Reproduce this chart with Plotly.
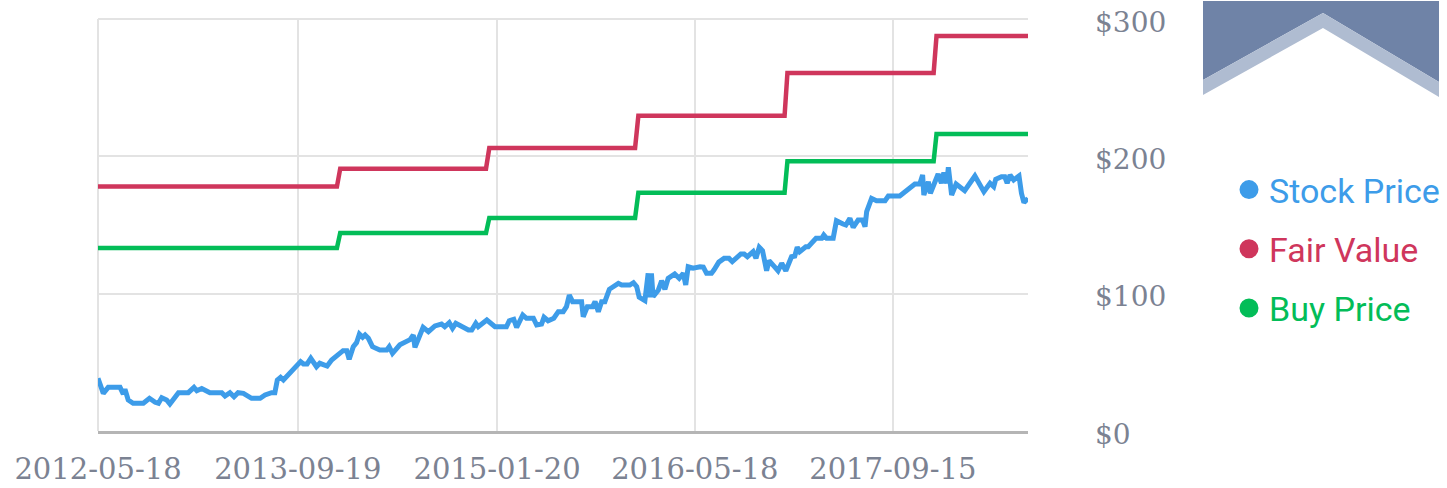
import plotly.graph_objects as go

# ---------------- data ----------------
stock_dates = [
    "2012-05-18", "2012-05-31", "2012-06-12", "2012-07-11", "2012-07-19", "2012-07-23", "2012-07-31",
    "2012-08-12", "2012-09-06", "2012-09-21", "2012-10-05", "2012-10-13", "2012-10-21", "2012-11-02",
    "2012-11-10", "2012-12-01", "2012-12-25", "2013-01-08", "2013-01-15", "2013-01-27", "2013-02-16",
    "2013-03-17", "2013-03-25", "2013-04-06", "2013-04-16", "2013-04-26", "2013-05-09", "2013-05-29",
    "2013-06-19", "2013-07-01", "2013-07-17", "2013-07-25", "2013-07-31", "2013-08-08", "2013-08-15",
    "2013-09-26", "2013-10-03", "2013-10-12", "2013-10-21", "2013-11-04", "2013-11-12", "2013-11-30",
    "2013-12-11", "2013-12-27", "2014-01-08", "2014-01-17", "2014-01-23", "2014-02-02", "2014-02-10",
    "2014-02-17", "2014-02-25", "2014-03-03", "2014-03-11", "2014-03-21", "2014-04-08", "2014-04-25",
    "2014-05-01", "2014-05-09", "2014-05-27", "2014-06-21", "2014-06-29", "2014-07-03", "2014-07-23",
    "2014-08-05", "2014-08-21", "2014-09-06", "2014-09-14", "2014-09-25", "2014-10-03", "2014-10-11",
    "2014-10-25", "2014-11-11", "2014-11-19", "2014-11-29", "2014-12-05", "2014-12-26", "2015-01-15",
    "2015-02-12", "2015-02-19", "2015-03-02", "2015-03-09", "2015-03-24", "2015-04-02", "2015-04-19",
    "2015-04-27", "2015-05-09", "2015-05-15", "2015-05-25", "2015-06-08", "2015-06-19", "2015-07-01",
    "2015-07-09", "2015-07-16", "2015-07-24", "2015-08-15", "2015-08-19", "2015-08-29", "2015-09-11",
    "2015-09-17", "2015-09-25", "2015-10-03", "2015-10-11", "2015-10-22", "2015-10-31", "2015-11-13",
    "2015-11-21", "2015-12-11", "2015-12-20", "2015-12-28", "2016-01-03", "2016-01-17", "2016-01-25",
    "2016-01-29", "2016-02-02", "2016-02-06", "2016-02-19", "2016-02-27", "2016-03-06", "2016-03-14",
    "2016-03-30", "2016-04-10", "2016-04-20", "2016-04-26", "2016-05-02", "2016-05-14", "2016-05-31",
    "2016-06-08", "2016-06-16", "2016-06-28", "2016-07-04", "2016-07-16", "2016-07-29", "2016-08-10",
    "2016-08-18", "2016-09-08", "2016-09-16", "2016-09-24", "2016-10-08", "2016-10-15", "2016-10-23",
    "2016-10-31", "2016-11-10", "2016-11-16", "2016-11-28", "2016-12-08", "2016-12-17", "2016-12-27",
    "2017-01-10", "2017-01-18", "2017-01-24", "2017-01-30", "2017-02-14", "2017-02-20", "2017-03-11",
    "2017-03-25", "2017-03-30", "2017-04-06", "2017-04-22", "2017-04-30", "2017-05-16", "2017-05-23",
    "2017-06-02", "2017-06-10", "2017-06-22", "2017-07-03", "2017-07-09", "2017-07-13", "2017-07-25",
    "2017-08-06", "2017-08-27", "2017-09-04", "2017-10-02", "2017-10-23", "2017-11-08", "2017-11-20",
    "2017-11-27", "2017-11-30", "2017-12-11", "2017-12-16", "2017-12-27", "2018-01-04", "2018-01-12",
    "2018-01-18", "2018-01-25", "2018-01-29", "2018-02-06", "2018-02-17", "2018-03-10", "2018-04-04",
    "2018-04-26", "2018-05-11", "2018-05-20", "2018-05-25", "2018-06-08", "2018-06-16", "2018-06-22",
    "2018-06-29", "2018-07-08", "2018-07-21", "2018-07-27", "2018-08-02", "2018-08-12",
]
stock_values = [
    38.4, 27.4, 31.8, 31.8, 26.9, 30.4, 22.6,
    20.2, 20.2, 23.8, 20.9, 20.2, 24.3, 22.6,
    19.7, 27.9, 27.9, 31.8, 29.3, 31.0, 27.9,
    27.9, 25.5, 27.9, 25.0, 27.9, 27.4, 23.8,
    23.8, 26.2, 27.9, 27.9, 37.1, 39.1, 37.1,
    50.5, 48.8, 48.8, 52.9, 46.8, 49.3, 47.3,
    51.7, 55.3, 58.5, 58.5, 52.2, 61.4, 64.3,
    70.6, 68.2, 69.9, 67.5, 61.4, 59.0, 59.0,
    61.4, 56.6, 62.8, 66.5, 69.9, 60.9, 75.5,
    72.3, 76.5, 77.9, 75.9, 78.9, 74.8, 78.4,
    75.9, 73.5, 73.5, 78.4, 75.9, 80.8, 75.9,
    75.9, 80.3, 81.3, 75.5, 84.5, 82.1, 82.1,
    77.2, 77.9, 82.8, 80.3, 82.1, 86.9, 86.9,
    90.5, 99.0, 94.2, 94.2, 83.2, 90.5, 90.5,
    94.2, 86.9, 94.2, 94.2, 103.2, 104.6, 107.5,
    106.3, 106.3, 108.0, 105.1, 97.4, 94.9, 114.8,
    97.4, 114.8, 97.8, 102.7, 109.4, 103.2, 111.2,
    114.3, 111.2, 114.8, 106.3, 119.6, 118.5, 119.6,
    119.3, 114.8, 114.8, 117.2, 123.0, 125.7, 125.7,
    123.3, 128.9, 128.9, 126.9, 130.6, 125.7, 133.8,
    131.3, 116.7, 124.0, 120.1, 116.7, 122.1, 116.7,
    126.9, 127.4, 133.8, 130.6, 134.2, 134.2, 140.3,
    140.3, 142.7, 140.3, 140.3, 153.1, 150.7, 150.0,
    154.8, 148.3, 153.6, 153.6, 148.8, 159.7, 169.4,
    167.7, 167.7, 171.1, 171.1, 176.0, 179.9, 179.9,
    186.4, 171.8, 181.5, 173.1, 182.8, 187.1, 180.4,
    188.1, 180.4, 192.0, 171.8, 179.9, 175.0, 185.7,
    174.3, 180.4, 177.9, 183.3, 185.2, 185.2, 180.4,
    186.4, 182.8, 185.7, 173.1, 166.3, 169.4,
]

# yearly valuation updates (value held until the next update)
value_dates = [
    "2012-05-18", "2013-12-24", "2014-01-01", "2014-12-24", "2015-01-01", "2015-12-24",
    "2016-01-01", "2016-12-24", "2016-12-31", "2017-12-24", "2017-12-31", "2018-08-12",
]
fair_values = [178, 178, 191, 191, 206, 206, 229.5, 229.5, 260.7, 260.7, 287.6, 287.6]
buy_prices = [133.3, 133.3, 144.2, 144.2, 155.1, 155.1, 173.5, 173.5, 196.4, 196.4, 216.3, 216.3]

series_names = ["Stock Price", "Fair Value", "Buy Price"]
series_colors = ["#3d9ce9", "#cf365c", "#03bd58"]

x_tick_vals = ["2012-05-18", "2013-09-19", "2015-01-20", "2016-05-18", "2017-09-15"]
y_tick_vals = [0, 100, 200, 300]
y_tick_text = ["$0", "$100", "$200", "$300"]
x_range = ["2012-05-18", "2018-08-12"]
y_range = [0, 300]

# ---------------- figure ----------------
W, H = 1447, 488
L, R, T, B = 98, 419, 19, 57
GRID = "#e3e3e3"

fig = go.Figure()
fig.add_trace(go.Scatter(x=stock_dates, y=stock_values, mode="lines",
                         line=dict(color=series_colors[0], width=5),
                         showlegend=False, hoverinfo="skip"))
fig.add_trace(go.Scatter(x=value_dates, y=fair_values, mode="lines",
                         line=dict(color=series_colors[1], width=4.5),
                         showlegend=False, hoverinfo="skip"))
fig.add_trace(go.Scatter(x=value_dates, y=buy_prices, mode="lines",
                         line=dict(color=series_colors[2], width=4.5),
                         showlegend=False, hoverinfo="skip"))

# legend entries (dots + coloured labels)
for i, (name, col) in enumerate(zip(series_names, series_colors)):
    fig.add_trace(go.Scatter(
        x=[None], y=[None], mode="markers",
        marker=dict(color=col, size=16, line=dict(color=col, width=3)),
        name=f'<span style="color:{col}">{name}</span>',
        legendgroup=f"g{i}", showlegend=True))

# grid lines at the range edges (Plotly skips grid lines exactly on the range ends)
fig.add_shape(type="line", xref="x domain", yref="y domain", x0=0, x1=0, y0=0, y1=1,
              line=dict(color=GRID, width=2), layer="below")
fig.add_shape(type="line", xref="x domain", yref="y domain", x0=0, x1=1, y0=1, y1=1,
              line=dict(color=GRID, width=2), layer="below")


def px_x(p):
    return (p - L) / (W - L - R)


def px_y(p):
    return (H - B - p) / (H - T - B)


def path(points):
    return "M " + " L ".join(f"{px_x(a):.5f},{px_y(b):.5f}" for a, b in points) + " Z"


# decorative chevron badge in the top-right corner
fig.add_shape(type="path", xref="paper", yref="paper", layer="above",
              path=path([(1203, 1), (1439, 1), (1439, 82), (1323, 13), (1203, 80)]),
              fillcolor="#6f83a7", line=dict(width=0))
fig.add_shape(type="path", xref="paper", yref="paper", layer="above",
              path=path([(1203, 80), (1323, 13), (1439, 82), (1439, 97), (1323, 28), (1203, 95)]),
              fillcolor="#afbcd1", line=dict(width=0))

x_tick_font = dict(family="DejaVu Serif", size=29, color="#7b8292")
y_tick_font = dict(family="DejaVu Serif", size=28, color="#7b8292")

fig.update_layout(
    width=W, height=H,
    margin=dict(l=L, r=R, t=T, b=B, pad=0, autoexpand=False),
    paper_bgcolor="white", plot_bgcolor="white",
    hovermode=False,
    showlegend=True,
    legend=dict(x=px_x(1229), y=px_y(161), xanchor="left", yanchor="top",
                font=dict(family="Roboto", size=34, color="#333"),
                tracegroupgap=12, bgcolor="rgba(0,0,0,0)", borderwidth=0,
                itemclick=False, itemdoubleclick=False),
    xaxis=dict(type="date", range=x_range, tickvals=x_tick_vals, ticktext=x_tick_vals,
               showgrid=True, gridcolor=GRID, gridwidth=2,
               showline=True, linecolor="#b5b5b5", linewidth=3,
               ticks="", tickfont=x_tick_font, ticklabelstandoff=10, zeroline=False,
               automargin=False),
    yaxis=dict(range=y_range, side="right", tickvals=y_tick_vals, ticktext=y_tick_text,
               showgrid=True, gridcolor=GRID, gridwidth=2,
               showline=False, zeroline=False, ticks="",
               tickfont=y_tick_font, ticklabelstandoff=66, ticklabelshift=3,
               automargin=False),
)

fig.write_html("out.html",
               config={"displayModeBar": False, "staticPlot": True},
               post_script="document.body.style.margin='0';document.body.style.overflow='hidden';")
